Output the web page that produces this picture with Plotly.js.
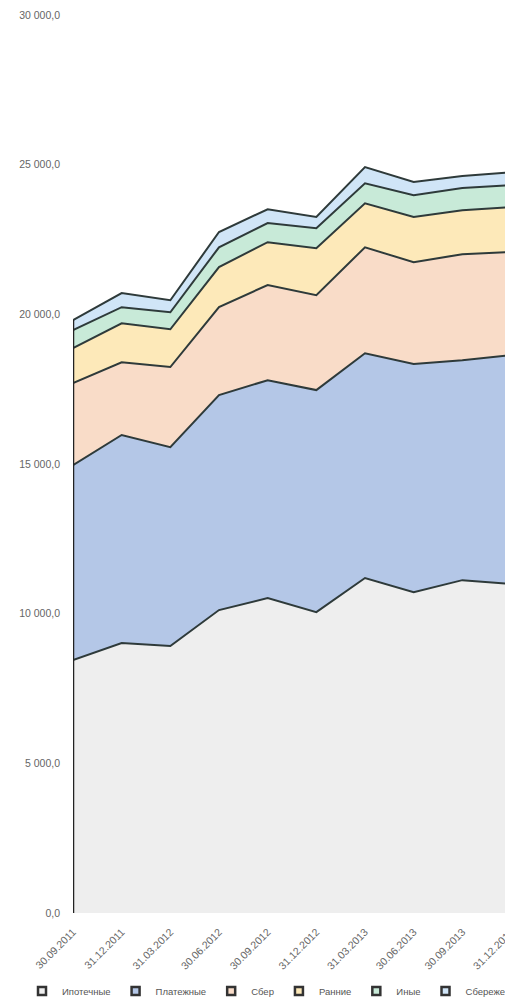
<!DOCTYPE html>
<html>
<head>
<meta charset="utf-8">
<script src="https://cdn.plot.ly/plotly-3.0.1.min.js"></script>
<style>
html,body{margin:0;padding:0;overflow:hidden;background:#fff;}
#chart{width:700px;height:1003px;}
</style>
</head>
<body>
<div id="chart"></div>
<script>
// Categories (reporting dates)
const dates = ["30.09.2011","31.12.2011","31.03.2012","30.06.2012","30.09.2012","31.12.2012","31.03.2013","30.06.2013","30.09.2013","31.12.2013"];

// Series names (legend)
const seriesNames = ["Ипотечные","Платежные","Сбер","Ранние","Иные","Сбережения"];

// Series values (stacked, bottom to top)
const s1 = [8450, 9020, 8920, 10120, 10520, 10050, 11190, 10720, 11120, 10990];
const s2 = [6510, 6950, 6640, 7180, 7280, 7420, 7510, 7620, 7350, 7650];
const s3 = [2740, 2430, 2680, 2940, 3180, 3170, 3540, 3400, 3540, 3440];
const s4 = [1170, 1300, 1260, 1340, 1430, 1570, 1470, 1510, 1470, 1500];
const s5 = [600, 540, 570, 660, 640, 670, 670, 730, 740, 740];
const s6 = [340, 470, 400, 510, 460, 370, 540, 440, 400, 430];

// Y-axis ticks
const yTicks = [0, 5000, 10000, 15000, 20000, 25000, 30000];

const seriesValues = [s1, s2, s3, s4, s5, s6];
const fills = ["#eeeeee", "#b4c7e7", "#f9dcc8", "#fde9b9", "#c8ead8", "#d0e5f7"];
const lineColor = "#2e3a3a";
const font = "Arial, Liberation Sans, sans-serif";
const W = 700;
const L = 73, R = 511, T = 15, B = 913, H = 1003;

const traces = [];
seriesValues.forEach((vals, i) => {
  traces.push({
    x: dates, y: vals, type: "scatter", mode: "lines",
    stackgroup: "one", fill: "tonexty", fillcolor: fills[i],
    line: {color: lineColor, width: 2},
    name: seriesNames[i], showlegend: false, hoverinfo: "x+y+name"
  });
});
// left edge of the stack (from data)
const total0 = seriesValues.reduce((a, v) => a + v[0], 0);
traces.push({
  x: [dates[0], dates[0]], y: [0, total0], type: "scatter", mode: "lines",
  line: {color: "#222", width: 2.5}, showlegend: false, hoverinfo: "skip"
});
// legend entries
seriesValues.forEach((vals, i) => {
  traces.push({
    x: [null], y: [null], type: "scatter", mode: "markers",
    marker: {symbol: "square", size: 8, color: fills[i], line: {color: "#333", width: 2.5}},
    name: seriesNames[i], showlegend: true
  });
});

const layout = {
  width: W, height: H,
  margin: {l: L, r: W - R, t: T, b: H - B, autoexpand: false},
  paper_bgcolor: "#ffffff", plot_bgcolor: "#ffffff",
  showlegend: true,
  separators: ", ",
  xaxis: {
    type: "category", range: [0, dates.length - 1], automargin: false,
    showgrid: false, zeroline: false, showline: false,
    tickangle: -45, ticks: "", ticklabelstandoff: 10,
    tickfont: {family: font, size: 10.5, color: "#666666"}
  },
  yaxis: {
    range: [0, 30000], tickvals: yTicks, tickformat: ",.1f", automargin: false,
    showgrid: false, zeroline: false, showline: false, ticks: "",
    ticklabelstandoff: 12,
    tickfont: {family: font, size: 10.5, color: "#666666"}
  },
  legend: {
    orientation: "h", traceorder: "normal",
    x: (22 - L) / (R - L), xanchor: "left",
    y: (B - 991) / (B - T), yanchor: "middle",
    font: {family: font, size: 9.5, color: "#555555"},
    itemwidth: 30, bgcolor: "rgba(0,0,0,0)"
  }
};

Plotly.newPlot("chart", traces, layout, {displayModeBar: false, staticPlot: true});
</script>
</body>
</html>
